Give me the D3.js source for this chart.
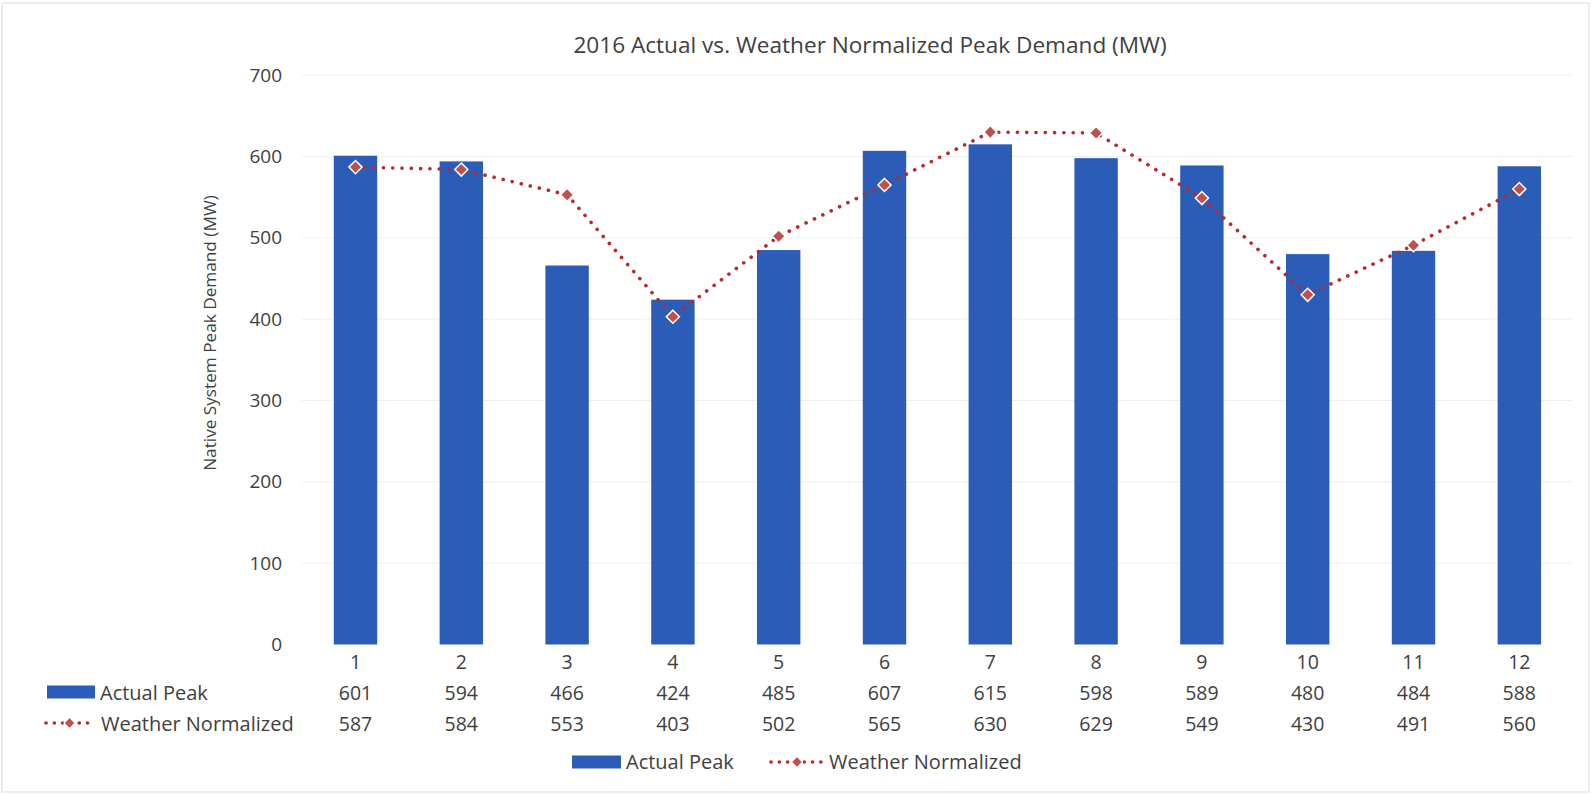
<!DOCTYPE html>
<html><head><meta charset="utf-8">
<script src="https://cdn.jsdelivr.net/npm/d3@7"></script>
<style>body{margin:0;background:#fff}svg{display:block}text{font-family:"Open Sans",sans-serif;fill:#404040}</style>
</head><body><svg id="c" width="1594" height="794"></svg>
<script>
const months = ["1","2","3","4","5","6","7","8","9","10","11","12"];
const actualPeak = [601,594,466,424,485,607,615,598,589,480,484,588];
const weatherNormalized = [587,584,553,403,502,565,630,629,549,430,491,560];
const yTicks = [0,100,200,300,400,500,600,700];
const title = "2016 Actual vs. Weather Normalized Peak Demand (MW)";
const yTitle = "Native System Peak Demand (MW)";
const seriesNames = ["Actual Peak","Weather Normalized"];

const svg = d3.select("#c");
const barColor = "#2b5cb8", lineColor = "#b8282c", markColor = "#c0504d";
const x = d3.scaleBand().domain(months).range([302.6,1572.2]).paddingInner(0.59).paddingOuter(0.295);
const y = d3.scaleLinear().domain([0,700]).range([644.5,75.2]);

// border
svg.append("rect").attr("x",2).attr("y",3).attr("width",1587).attr("height",789).attr("fill","none").attr("stroke","#e8e8e8").attr("stroke-width",1.5);

// gridlines
svg.append("g").selectAll("line").data(yTicks.filter(d=>d>0)).join("line")
  .attr("x1",302).attr("x2",1572).attr("y1",d=>y(d)).attr("y2",d=>y(d))
  .attr("stroke","#efefef").attr("stroke-width",1);

// y tick labels
const ya = svg.append("g").attr("transform","translate(282,0)").call(d3.axisLeft(y).tickValues(yTicks).tickSize(0).tickPadding(0));
ya.select(".domain").remove();
ya.selectAll("text").attr("font-family","Open Sans").attr("font-size",19).attr("fill","#404040");

// title
svg.append("text").attr("x",870).attr("y",53).attr("text-anchor","middle").attr("font-size",22.6).text(title);
svg.append("text").attr("transform","translate(216,333) rotate(-90)").attr("text-anchor","middle").attr("font-size",17.2).text(yTitle);

// bars
svg.append("g").selectAll("rect").data(actualPeak).join("rect")
  .attr("x",(d,i)=>x(months[i])).attr("width",x.bandwidth())
  .attr("y",d=>y(d)).attr("height",d=>y(0)-y(d)).attr("fill",barColor);

// line
const cx = i => x(months[i]) + x.bandwidth()/2;
const line = d3.line().x((d,i)=>cx(i)).y(d=>y(d));
svg.append("path").datum(weatherNormalized).attr("d",line).attr("fill","none")
  .attr("stroke",lineColor).attr("stroke-width",3.6).attr("stroke-linecap","round").attr("stroke-dasharray","0.1 9.2");
const diamond = d3.symbol().type(d3.symbolDiamond2).size(110);
svg.append("g").selectAll("path").data(weatherNormalized).join("path")
  .attr("transform",(d,i)=>`translate(${cx(i)},${y(d)})`).attr("d",diamond)
  .attr("fill",markColor).attr("stroke","#fff").attr("stroke-width",1.5);

// category axis labels
svg.append("g").selectAll("text").data(months).join("text")
  .attr("x",(d,i)=>cx(i)).attr("y",669).attr("text-anchor","middle").attr("font-size",19.5).text(d=>d);

// data table
const rows = [actualPeak, weatherNormalized];
const rowY = [700, 731];
rows.forEach((vals,r)=>{
  svg.append("g").selectAll("text").data(vals).join("text")
    .attr("x",(d,i)=>cx(i)).attr("y",rowY[r]).attr("text-anchor","middle").attr("font-size",19.5).text(d=>d);
});

function legendKey(g, kind, x0, x1, yc){
  if(kind===0){
    g.append("rect").attr("x",x0).attr("y",yc-6.5).attr("width",x1-x0).attr("height",13).attr("fill",barColor);
  } else {
    g.append("line").attr("x1",x0+3).attr("x2",x1-2).attr("y1",yc).attr("y2",yc)
      .attr("stroke",lineColor).attr("stroke-width",3.6).attr("stroke-linecap","round").attr("stroke-dasharray","0.1 8.2");
    g.append("path").attr("transform",`translate(${(x0+x1)/2},${yc})`).attr("d",d3.symbol().type(d3.symbolDiamond2).size(80))
      .attr("fill",markColor).attr("stroke","#fff").attr("stroke-width",1.2);
  }
}
// table row keys
const tk = svg.append("g");
legendKey(tk,0,47,95,692);
tk.append("text").attr("x",100).attr("y",700).attr("font-size",20).text(seriesNames[0]);
legendKey(tk,1,43,96,723);
tk.append("text").attr("x",101).attr("y",731).attr("font-size",20).text(seriesNames[1]);

// bottom legend
const lg = svg.append("g");
legendKey(lg,0,572,621,762);
lg.append("text").attr("x",626).attr("y",769).attr("font-size",20).text(seriesNames[0]);
legendKey(lg,1,768,826,762);
lg.append("text").attr("x",829).attr("y",769).attr("font-size",20).text(seriesNames[1]);
</script></body></html>
